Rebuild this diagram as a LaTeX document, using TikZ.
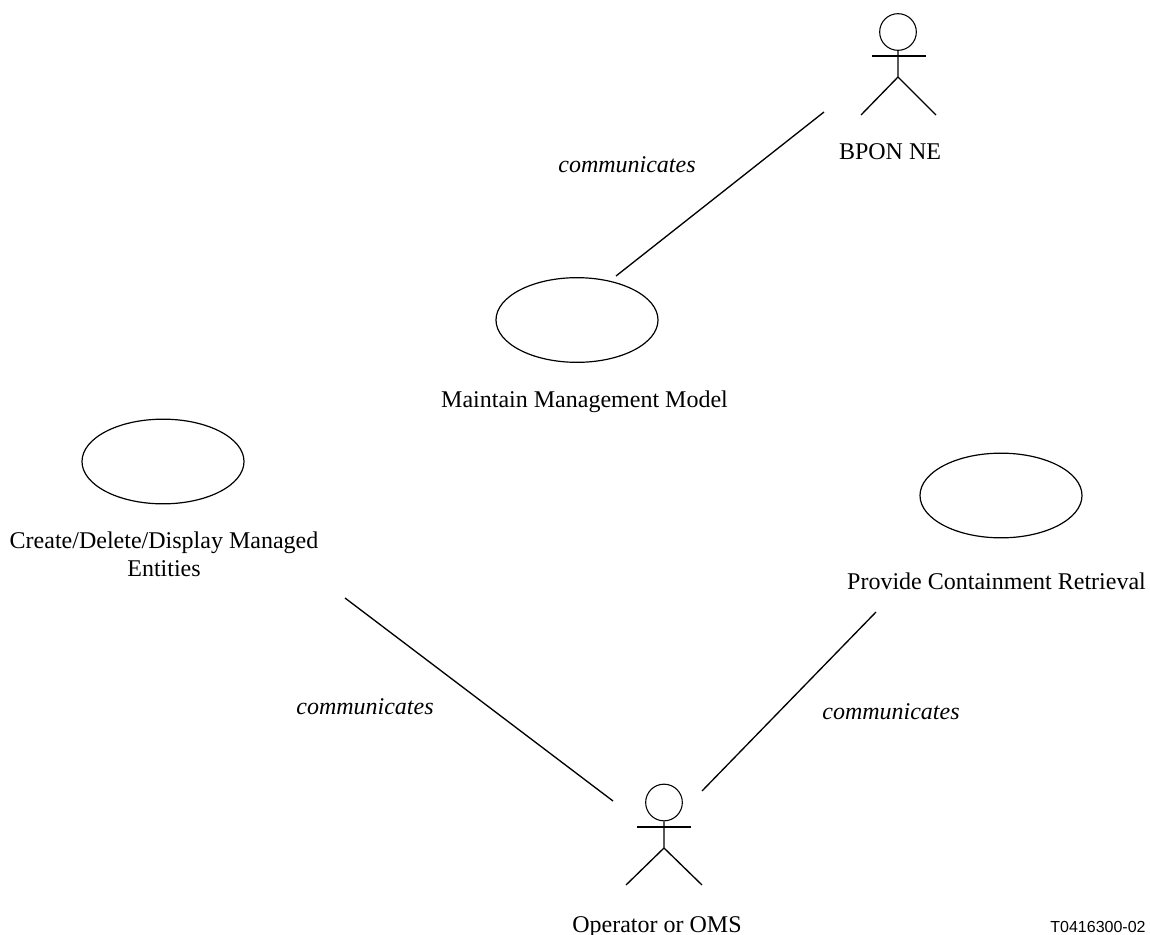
\documentclass[tikz,border=0pt]{standalone}
\usepackage{fontspec}
\setmainfont{Liberation Serif}
\newfontfamily\arialf{Liberation Sans}
\usetikzlibrary{shapes.geometric}
\tikzset{
 usecase/.style={draw,ellipse,line width=0.9pt,minimum width=121.5pt,minimum height=63.5pt,inner sep=0pt},
 lbl/.style={font=\fontsize{18}{21}\selectfont,align=center,inner sep=0pt,anchor=base},
 comm/.style={font=\fontsize{18}{21}\selectfont\itshape,inner sep=0pt,anchor=base},
 conn/.style={line width=1pt},
 stick/.style={line width=1pt},
 arms/.style={line width=0.8pt},
 actorhead/.style={draw,circle,line width=0.8pt,minimum size=27.5pt,inner sep=0pt},
}
\begin{document}
\begin{tikzpicture}[x=0.75pt,y=-0.75pt]
\useasboundingbox (0,0) rectangle (1150,935);
% BPON actor
\node[actorhead] (h1) at (898,32) {};
\coordinate (c1) at (898,77);
\coordinate (la1) at (861,115);
\coordinate (ra1) at (936,115);
\coordinate (al1) at (872,56);
\coordinate (ar1) at (926,56);
\draw[stick] (h1.south) -- (c1) -- (la1) (c1) -- (ra1);
\draw[arms] (al1) -- (ar1);
\node[lbl] (t1) at (890,159) {BPON NE};
% Operator actor
\node[actorhead] (h2) at (664,802.5) {};
\coordinate (c2) at (664,848);
\coordinate (la2) at (626,885);
\coordinate (ra2) at (702,885);
\coordinate (al2) at (637,827);
\coordinate (ar2) at (691,827);
\draw[stick] (h2.south) -- (c2) -- (la2) (c2) -- (ra2);
\draw[arms] (al2) -- (ar2);
\node[lbl] (t2) at (657,932) {Operator or OMS};
% use cases
\node[usecase] (u1) at (577,320) {};
\node[lbl] (t3) at (584.5,407) {Maintain Management Model};
\node[usecase] (u2) at (163,461.5) {};
\node[lbl,anchor=center] (t4) at (164,554) {Create/Delete/Display Managed\\Entities};
\node[usecase] (u3) at (1001,495.5) {};
\node[lbl] (t5) at (996.5,589) {Provide Containment Retrieval};
% connectors
\coordinate (a1) at (824,112);
\coordinate (a2) at (616,276);
\coordinate (b1) at (345,598);
\coordinate (b2) at (613,801);
\coordinate (d1) at (876,612);
\coordinate (d2) at (702,791);
\draw[conn] (a1) -- (a2);
\draw[conn] (b1) -- (b2);
\draw[conn] (d1) -- (d2);
\node[comm] (c1t) at (627,172) {communicates};
\node[comm] (c2t) at (365,714) {communicates};
\node[comm] (c3t) at (891,719) {communicates};
\node[font=\arialf\fontsize{12}{14}\selectfont,inner sep=0pt,anchor=base] (id) at (1098,932) {T0416300-02};
\end{tikzpicture}
\end{document}
